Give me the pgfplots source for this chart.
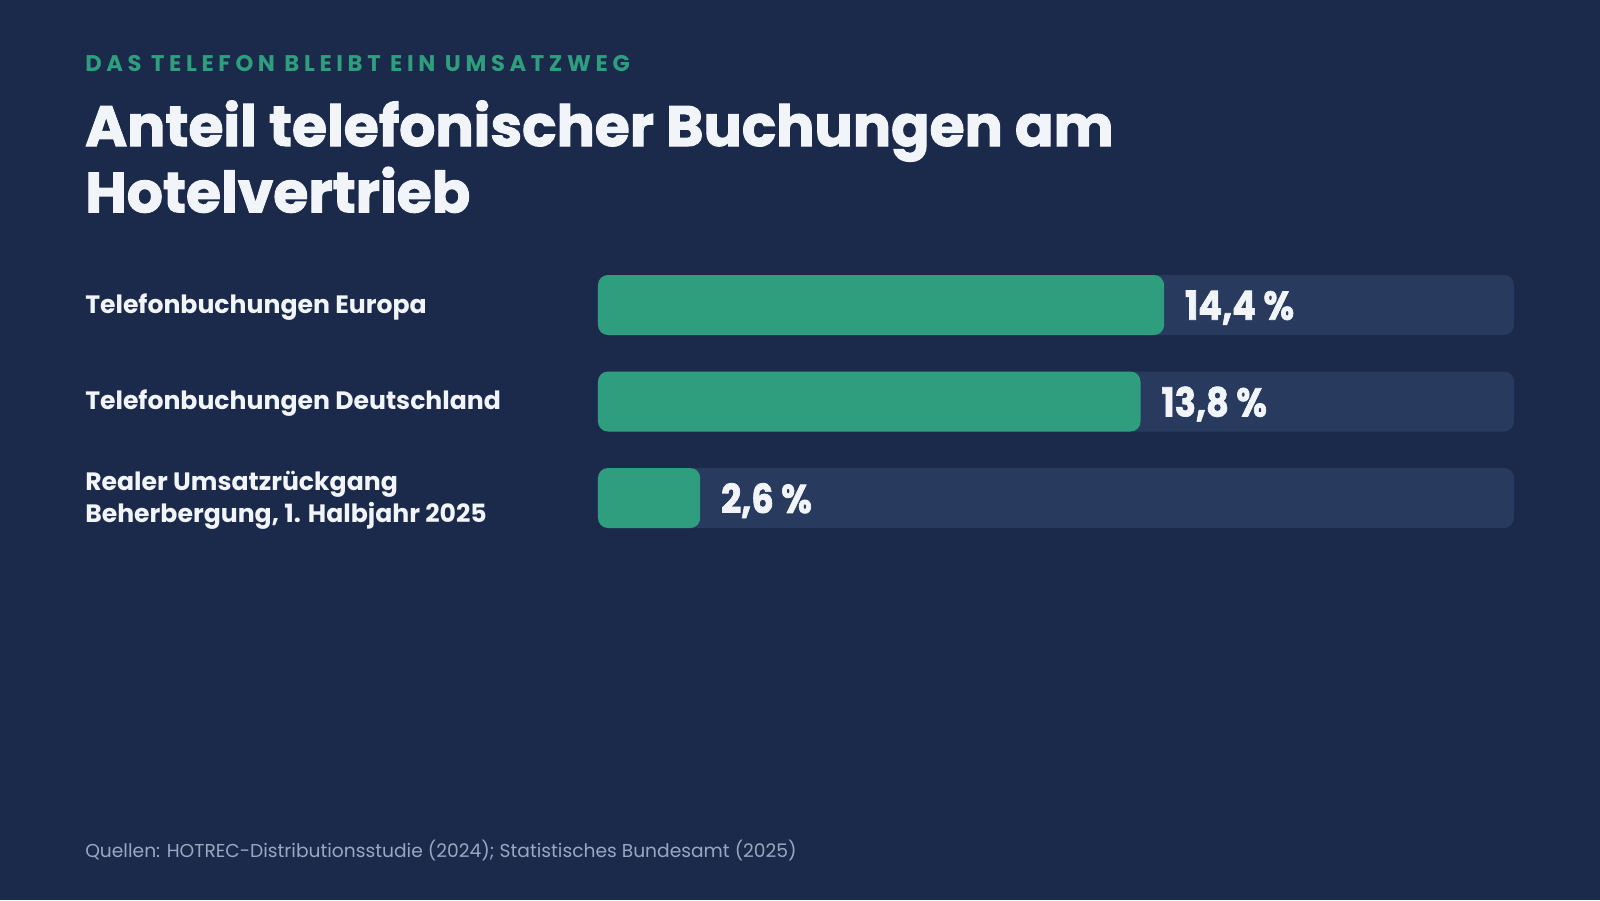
\documentclass[border=0pt]{standalone}
\usepackage{pgfplots}
\pgfplotsset{compat=1.18}
\usepackage{fontspec}
\setmainfont{Poppins}
\newfontfamily\kickerfont[LetterSpace=20.5]{Poppins}
\newfontfamily\heavy[BoldFeatures={FakeBold=1.8}]{Poppins}
\definecolor{bg}{HTML}{1B2A4A}
\definecolor{track}{HTML}{283A5D}
\definecolor{barg}{HTML}{2E9E7E}
\definecolor{kick}{HTML}{2E9E7E}
\definecolor{titlec}{HTML}{F1F5FA}
\definecolor{foot}{HTML}{9AA7C3}
\begin{document}
\begin{tikzpicture}
\fill[bg] (0,0) rectangle (1200pt,-675pt);
\node[anchor=base west, inner sep=0, text=kick, font=\kickerfont\bfseries\fontsize{17}{20}\selectfont] at (63.75pt,-53.4pt) {DAS TELEFON BLEIBT EIN UMSATZWEG};
\node[anchor=base west, inner sep=0, text=titlec, font=\heavy\bfseries\fontsize{42.6}{48}\selectfont] at (63.75pt,-109.5pt) {Anteil telefonischer Buchungen am};
\node[anchor=base west, inner sep=0, text=titlec, font=\heavy\bfseries\fontsize{42.6}{48}\selectfont] at (63.75pt,-159.3pt) {Hotelvertrieb};
\node[anchor=base west, inner sep=0, text=foot, font=\fontsize{14}{17}\selectfont] at (63.75pt,-642.75pt) {Quellen: HOTREC-Distributionsstudie (2024); Statistisches Bundesamt (2025)};
\begin{axis}[
  at={(448.5pt,-409.69pt)}, anchor=south west,
  scale only axis, width=687pt, height=217.1pt,
  xmin=0, xmax=23.3, ymin=-0.5, ymax=2.5, y dir=reverse,
  axis line style={draw=none}, tick style={draw=none}, major tick length=0pt,
  xtick=\empty, ytick={0,1,2},
  yticklabels={Telefonbuchungen Europa,Telefonbuchungen Deutschland,{Realer Umsatzrückgang\\Beherbergung, 1. Halbjahr 2025}},
  yticklabel style={anchor=west, inner sep=0pt, xshift=-384.75pt, yshift=-1.5pt, align=left, text=titlec, font=\bfseries\fontsize{18.85}{24}\selectfont},
  bar width=0.622, clip=false,
]
\addplot[xbar, bar shift=0pt, fill=track, draw=none, rounded corners=7.5pt] coordinates {(23.3,0) (23.3,1) (23.3,2)};
\addplot[xbar, bar shift=0pt, fill=barg, draw=none, rounded corners=7.5pt,
  nodes near coords, point meta=explicit symbolic,
  nodes near coords style={anchor=west, inner sep=0pt, xshift=15.5pt, text depth=0pt, text=titlec, font=\heavy\bfseries\fontsize{30}{30}\selectfont}]
  coordinates {(14.4,0) [{\scalebox{0.88}[1]{14,4 \%}}] (13.8,1) [{\scalebox{0.88}[1]{13,8 \%}}] (2.6,2) [{\scalebox{0.88}[1]{2,6 \%}}]};
\end{axis}
\end{tikzpicture}
\end{document}
